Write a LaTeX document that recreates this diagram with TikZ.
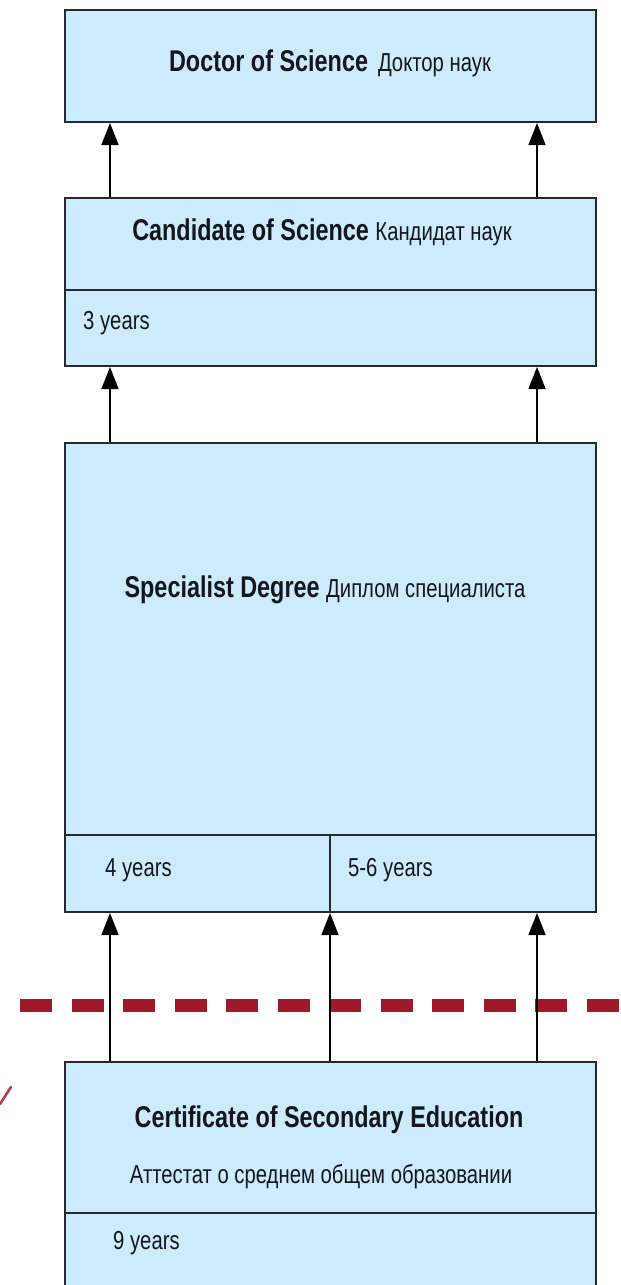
\documentclass[tikz,border=0pt]{standalone}
\usepackage{fontspec}
\setmainfont{Liberation Sans}[FakeStretch=0.78]
\usetikzlibrary{arrows.meta}
\definecolor{boxfill}{RGB}{204,235,252}
\definecolor{boxline}{RGB}{40,40,45}
\definecolor{dashred}{RGB}{160,24,42}
\definecolor{textcol}{RGB}{20,22,30}
\newcommand\mybold{\fontsize{30}{34}\selectfont\bfseries}
\newcommand\myreg{\fontsize{26}{30}\selectfont\mdseries}
\begin{document}
\begin{tikzpicture}[x=1pt,y=-1pt,
  box/.style={draw=boxline, line width=2pt, fill=boxfill, rectangle, inner sep=0pt,
    anchor=north west, minimum width=531pt},
  divider/.style={draw=boxline, line width=2pt},
  title/.style={text=textcol, inner sep=0pt, anchor=center},
  yrs/.style={text=textcol, inner sep=0pt, anchor=west, font=\myreg},
  arr/.style={draw=black, line width=1.5pt, -{Triangle[length=22pt,width=17pt]}},
  dashline/.style={draw=dashred, line width=13pt, dash pattern=on 32pt off 19.5pt}
]
\clip (0,0) rectangle (621,1285);
\fill[white] (0,0) rectangle (621,1285);

% boxes
\node[box, minimum height=112pt] (doc) at (64,9) {};
\node[box, minimum height=168pt] (cand) at (64,197) {};
\node[box, minimum height=469pt] (spec) at (64,442) {};
\node[box, minimum height=260pt] (cert) at (64,1061) {};

% dividers
\draw[divider] (64,290) -- (595,290);
\draw[divider] (64,835) -- (595,835);
\draw[divider] (330,835) -- (330,911);
\draw[divider] (64,1213) -- (595,1213);

% texts
\node[title] (tdoc) at (330,63) {\mybold Doctor of Science\hspace{10pt}\myreg Доктор наук};
\node[title] (tcand) at (322,232) {\mybold Candidate of Science \myreg Кандидат наук};
\node[yrs] (y3) at (83,323) {3 years};
\node[title] (tspec) at (325,590) {\mybold Specialist Degree \myreg Диплом специалиста};
\node[yrs] (y4) at (105,870) {4 years};
\node[yrs] (y56) at (348,870) {5-6 years};
\node[title] (tcert) at (329,1120) {\mybold Certificate of Secondary Education};
\node[title] (tatt) at (321,1177) {\myreg Аттестат о среднем общем образовании};
\node[yrs] (y9) at (113,1243) {9 years};

% dashed separator
\draw[dashline] (20,1005) -- (660,1005);

% partial red mark at the left edge
\draw[dashred!85, line width=2.5pt, line cap=round] (0,1104) -- (11,1087);

% arrows
\coordinate (xa) at (110,0);
\coordinate (xb) at (330,0);
\coordinate (xc) at (537,0);
\draw[arr] (cand.north -| xa) -- (doc.south -| xa);
\draw[arr] (cand.north -| xc) -- (doc.south -| xc);
\draw[arr] (spec.north -| xa) -- (cand.south -| xa);
\draw[arr] (spec.north -| xc) -- (cand.south -| xc);
\draw[arr] (cert.north -| xa) -- (spec.south -| xa);
\draw[arr] (cert.north -| xb) -- (spec.south -| xb);
\draw[arr] (cert.north -| xc) -- (spec.south -| xc);
\end{tikzpicture}
\end{document}
